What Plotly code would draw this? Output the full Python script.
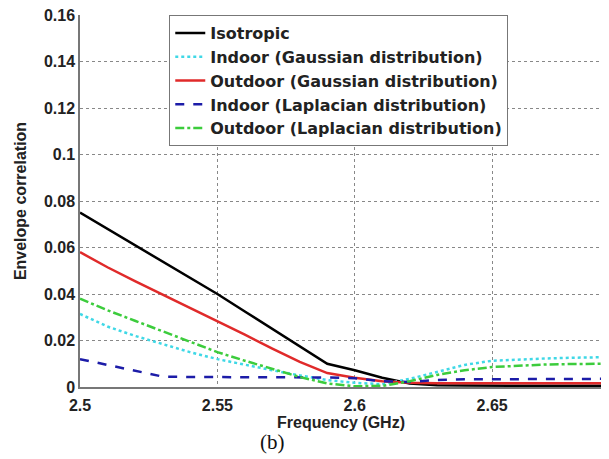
import plotly.graph_objects as go

freq = [2.50, 2.51, 2.52, 2.53, 2.54, 2.55, 2.56, 2.57, 2.58, 2.59,
        2.60, 2.61, 2.62, 2.63, 2.64, 2.65, 2.66, 2.67, 2.68, 2.69]

isotropic = [0.075, 0.068, 0.061, 0.054, 0.047, 0.040, 0.0325, 0.025, 0.0175, 0.010,
             0.0072, 0.0040, 0.0015, 0.0008, 0.0006, 0.0005, 0.0005, 0.0005, 0.0005, 0.0005]
indoor_gauss = [0.0314, 0.026, 0.022, 0.0185, 0.015, 0.012, 0.0095, 0.0072, 0.005, 0.003,
                0.0018, 0.0012, 0.0035, 0.0065, 0.0095, 0.0113, 0.0119, 0.0123, 0.0126, 0.0128]
outdoor_gauss = [0.058, 0.0515, 0.0455, 0.0398, 0.034, 0.0284, 0.0225, 0.0165, 0.0108, 0.0060,
                 0.0040, 0.0025, 0.0018, 0.0016, 0.0016, 0.0016, 0.0016, 0.0016, 0.0016, 0.0016]
indoor_lap = [0.012, 0.0095, 0.007, 0.0045, 0.0043, 0.0043, 0.0043, 0.0043, 0.0042, 0.0041,
              0.0038, 0.0025, 0.0022, 0.0030, 0.0033, 0.0034, 0.0034, 0.0035, 0.0035, 0.0035]
outdoor_lap = [0.038, 0.033, 0.0285, 0.024, 0.0195, 0.015, 0.0113, 0.0078, 0.0043, 0.0015,
               0.0003, 0.0005, 0.0025, 0.0052, 0.0072, 0.0086, 0.0093, 0.0097, 0.0099, 0.0100]

names = ["Isotropic", "Indoor (Gaussian distribution)", "Outdoor (Gaussian distribution)",
         "Indoor (Laplacian distribution)", "Outdoor (Laplacian distribution)"]
series = [isotropic, indoor_gauss, outdoor_gauss, indoor_lap, outdoor_lap]
colors = ["#000000", "#3fd8e6", "#e02a2a", "#1c1ca8", "#3ccc3c"]
dashes = ["solid", "dot", "solid", "dash", "dashdot"]

x_ticks = [2.5, 2.55, 2.6, 2.65]
x_tick_text = ["2.5", "2.55", "2.6", "2.65"]
y_ticks = [0, 0.02, 0.04, 0.06, 0.08, 0.1, 0.12, 0.14, 0.16]
y_tick_text = ["0", "0.02", "0.04", "0.06", "0.08", "0.1", "0.12", "0.14", "0.16"]

fig = go.Figure()
for n, s, c, d in zip(names, series, colors, dashes):
    fig.add_trace(go.Scatter(x=freq, y=s, mode="lines", name=n,
                             line=dict(color=c, dash=d, width=2.5)))

font_fam = "Liberation Sans, Arial, sans-serif"
txt = "#222222"
fig.update_layout(
    width=609, height=459,
    margin=dict(l=72, r=15, t=7, b=80),
    paper_bgcolor="white", plot_bgcolor="white",
    font=dict(family=font_fam, color=txt),
    legend=dict(x=0.171, y=1.0, xanchor="left", yanchor="top",
                bgcolor="white", bordercolor="#777777", borderwidth=1,
                font=dict(family="DejaVu Sans, sans-serif", size=16, color=txt, weight="bold"),
                tracegroupgap=0),
    xaxis=dict(range=[2.5, 2.69], tickvals=x_ticks, ticktext=x_tick_text,
               showgrid=True, gridcolor="#888888", griddash="dot", gridwidth=1,
               showline=True, linecolor="#777777", linewidth=1.5, mirror=False,
               ticks="", zeroline=False, automargin=False, ticklabelstandoff=3,
               tickfont=dict(size=16, weight="bold", color=txt),
               title=dict(text="Frequency (GHz)", standoff=1,
                          font=dict(size=16, weight="bold", color=txt))),
    yaxis=dict(range=[0, 0.16], tickvals=y_ticks, ticktext=y_tick_text,
               showgrid=True, gridcolor="#888888", griddash="dot", gridwidth=1,
               showline=True, linecolor="#777777", linewidth=1.5, mirror=True,
               ticks="", zeroline=False, automargin=False, ticklabeloverflow="allow",
               tickfont=dict(size=16, weight="bold", color=txt),
               title=dict(text="Envelope correlation", standoff=13,
                          font=dict(size=16, weight="bold", color=txt))),
    annotations=[dict(text="(b)", xref="paper", yref="paper", x=0.368, y=-0.148,
                      xanchor="center", yanchor="middle", showarrow=False,
                      font=dict(family="Liberation Serif, Times New Roman, serif",
                                size=21, color="#111111"))],
)

fig.write_html("out.html")
